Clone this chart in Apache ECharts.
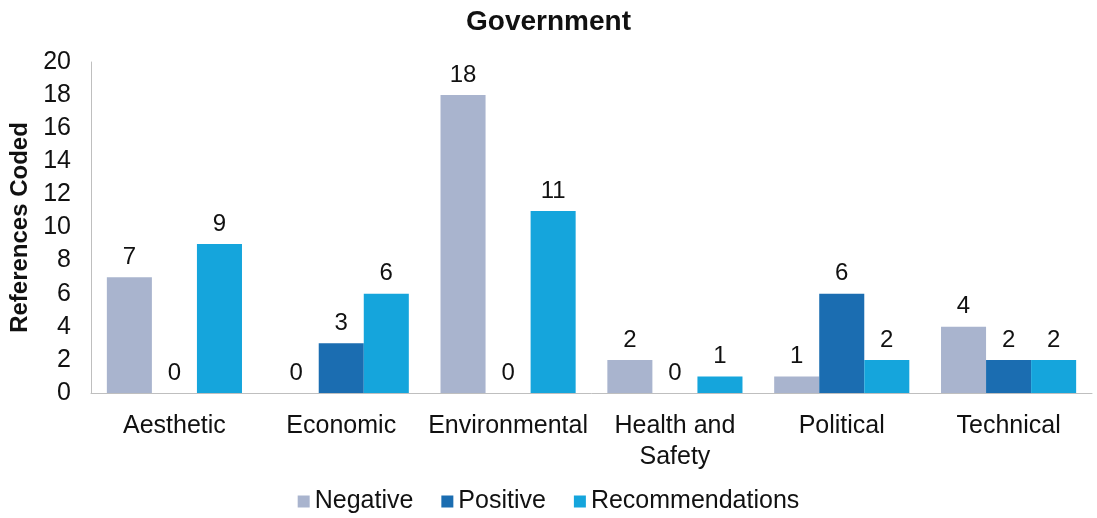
<!DOCTYPE html>
<html>
<head>
<meta charset="utf-8">
<script src="https://cdn.jsdelivr.net/npm/echarts@6/dist/echarts.min.js"></script>
<style>
html,body{margin:0;padding:0;background:#fff;}
#chart{width:1097px;height:518px;}
</style>
</head>
<body>
<div id="chart"></div>
<script>
const categories = ['Aesthetic', 'Economic', 'Environmental', 'Health and\nSafety', 'Political', 'Technical'];
const negative = [7, 0, 18, 2, 1, 4];
const positive = [0, 3, 0, 0, 6, 2];
const recommendations = [9, 6, 11, 1, 2, 2];
const yTicks = { min: 0, max: 20, interval: 2 };

const font = 'Liberation Sans, Arial, sans-serif';
const label = { show: true, position: 'top', color: '#111', fontSize: 24, fontFamily: font, distance: 8 };

const chart = echarts.init(document.getElementById('chart'));
chart.setOption({
  animation: false,
  title: {
    text: 'Government', left: 'center', top: 3,
    textStyle: { fontSize: 28, fontWeight: 'bold', color: '#111', fontFamily: font }
  },
  legend: {
    bottom: -1, left: 'center', itemWidth: 12, itemHeight: 12, itemGap: 28,
    icon: 'rect',
    textStyle: { fontSize: 25, color: '#111', fontFamily: font, padding: [0, 0, 0, 0] }
  },
  grid: { left: 91, right: 5, top: 62, bottom: 125 },
  xAxis: {
    type: 'category', data: categories,
    axisLine: { lineStyle: { color: '#bfbfbf' } },
    axisTick: { show: false },
    axisLabel: { interval: 0, fontSize: 25, color: '#111', fontFamily: font, margin: 18, lineHeight: 31 }
  },
  yAxis: {
    type: 'value', min: yTicks.min, max: yTicks.max, interval: yTicks.interval,
    name: 'References Coded', nameLocation: 'middle', nameGap: 58,
    nameTextStyle: { fontSize: 24, fontWeight: 'bold', color: '#111', fontFamily: font },
    axisLine: { show: true, lineStyle: { color: '#bfbfbf' } },
    axisTick: { show: false },
    splitLine: { show: false },
    axisLabel: { fontSize: 25, color: '#111', fontFamily: font, margin: 20 }
  },
  series: [
    { name: 'Negative', type: 'bar', data: negative, barGap: '0%', barCategoryGap: '19%', itemStyle: { color: '#a9b4ce' }, label },
    { name: 'Positive', type: 'bar', data: positive, itemStyle: { color: '#1b6db1' }, label },
    { name: 'Recommendations', type: 'bar', data: recommendations, itemStyle: { color: '#15a5dc' }, label }
  ]
});
</script>
</body>
</html>
